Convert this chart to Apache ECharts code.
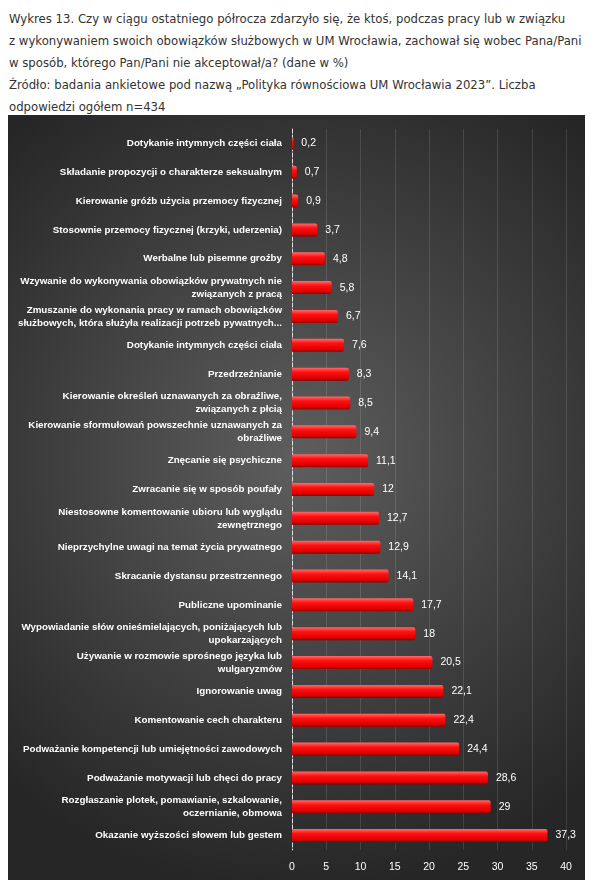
<!DOCTYPE html>
<html><head><meta charset="utf-8">
<script src="https://cdn.jsdelivr.net/npm/echarts@6/dist/echarts.min.js"></script>
<style>
body{margin:0;background:#fff;width:598px;height:887px;overflow:hidden;font-family:"DejaVu Sans",sans-serif}
#t{position:absolute;left:9px;top:8px;font-size:11.7px;line-height:22px;color:#333;width:589px;white-space:nowrap}
#c{position:absolute;left:8px;top:115px;width:577px;height:765px}
</style></head><body>
<div id="t">Wykres 13. Czy w ciągu ostatniego półrocza zdarzyło się, że ktoś, podczas pracy lub w związku<br>z wykonywaniem swoich obowiązków służbowych w UM Wrocławia, zachował się wobec Pana/Pani<br>w sposób, którego Pan/Pani nie akceptował/a? (dane w %)<br>Źródło: badania ankietowe pod nazwą „Polityka równościowa UM Wrocławia 2023”. Liczba<br>odpowiedzi ogółem n=434</div>
<div id="c"></div>
<script>
const categories = [
"Dotykanie intymnych części ciała",
"Składanie propozycji o charakterze seksualnym",
"Kierowanie gróźb użycia przemocy fizycznej",
"Stosownie przemocy fizycznej (krzyki, uderzenia)",
"Werbalne lub pisemne groźby",
"Wzywanie do wykonywania obowiązków prywatnych nie\nzwiązanych z pracą",
"Zmuszanie do wykonania pracy w ramach obowiązków\nsłużbowych, która służyła realizacji potrzeb pywatnych...",
"Dotykanie intymnych części ciała",
"Przedrzeźnianie",
"Kierowanie określeń uznawanych za obraźliwe,\nzwiązanych z płcią",
"Kierowanie sformułowań powszechnie uznawanych za\nobraźliwe",
"Znęcanie się psychiczne",
"Zwracanie się w sposób poufały",
"Niestosowne komentowanie ubioru lub wyglądu\nzewnętrznego",
"Nieprzychylne uwagi na temat życia prywatnego",
"Skracanie dystansu przestrzennego",
"Publiczne upominanie",
"Wypowiadanie słów onieśmielających, poniżających lub\nupokarzających",
"Używanie w rozmowie sprośnego języka lub\nwulgaryzmów",
"Ignorowanie uwag",
"Komentowanie cech charakteru",
"Podważanie kompetencji lub umiejętności zawodowych",
"Podważanie motywacji lub chęci do pracy",
"Rozgłaszanie plotek, pomawianie, szkalowanie,\noczernianie, obmowa",
"Okazanie wyższości słowem lub gestem"
];
const values = [0.2,0.7,0.9,3.7,4.8,5.8,6.7,7.6,8.3,8.5,9.4,11.1,12,12.7,12.9,14.1,17.7,18,20.5,22.1,22.4,24.4,28.6,29,37.3];
const labels = values.map(v=>String(v).replace('.',','));
const ch = echarts.init(document.getElementById('c'));
ch.setOption({
  backgroundColor:{type:'radial',x:0.5,y:0.45,r:0.75,colorStops:[{offset:0,color:'#5e5e5e'},{offset:1,color:'#262626'}]},
  animation:false,
  grid:{left:284,right:19,top:14,bottom:30},
  xAxis:{type:'value',min:0,max:40,interval:5,axisLine:{show:false},axisTick:{show:false},
    splitLine:{lineStyle:{color:'rgba(255,255,255,0.12)'}},
    axisLabel:{color:'#fff',fontSize:10.5,fontFamily:'Liberation Sans',margin:12}},
  yAxis:{type:'category',inverse:true,data:categories,
    axisLine:{lineStyle:{color:'#ddd',type:'dashed',width:1}},axisTick:{show:false},
    axisLabel:{color:'#fff',fontSize:9.8,fontWeight:'bold',fontFamily:'Liberation Sans',margin:10,lineHeight:13}},
  series:[{type:'bar',data:values,barWidth:13,
    itemStyle:{color:{type:'linear',x:0,y:0,x2:0,y2:1,colorStops:[{offset:0,color:'#ff6a6a'},{offset:0.35,color:'#ff1010'},{offset:0.8,color:'#e00000'},{offset:1,color:'#900000'}]},borderRadius:[0,2,2,0]},
    label:{show:true,position:'right',distance:8,color:'#fff',fontSize:10.5,fontFamily:'Liberation Sans',formatter:p=>labels[p.dataIndex]}}]
});
</script></body></html>
